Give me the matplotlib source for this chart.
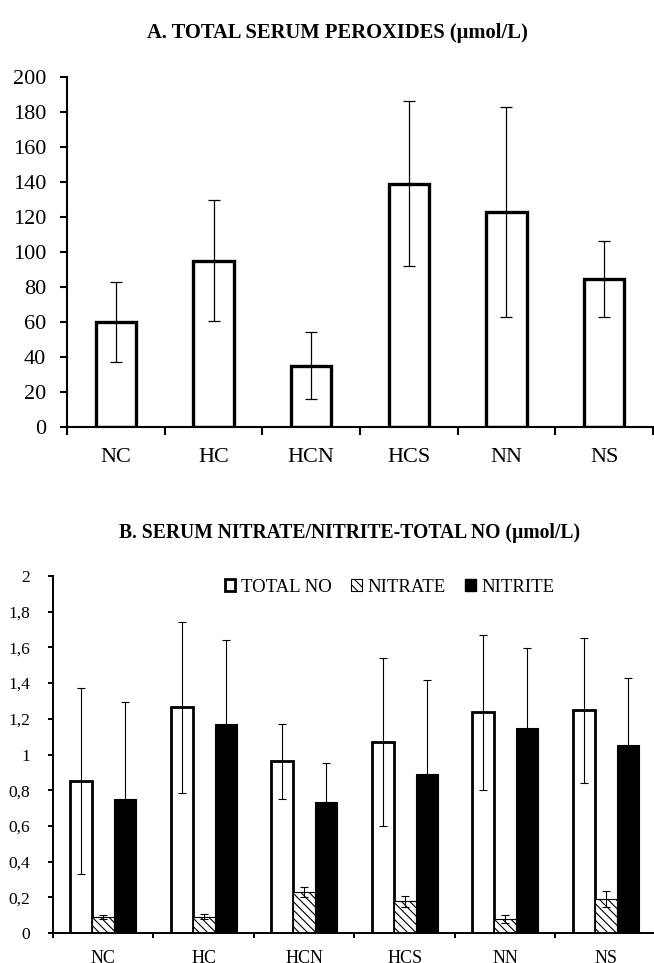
import matplotlib
matplotlib.use("Agg")
import matplotlib.pyplot as plt
import numpy as np
from matplotlib.patches import Patch
from matplotlib.ticker import FixedLocator

plt.rcParams["font.family"] = ["Liberation Serif", "DejaVu Serif"]
plt.rcParams["hatch.linewidth"] = 0.8

# ---- data ----
groups = ["NC", "HC", "HCN", "HCS", "NN", "NS"]

peroxides = [60, 95, 35, 139, 123, 84.5]
peroxides_err = [23, 34.5, 19, 47, 60, 21.5]

total_no = [0.85, 1.265, 0.963, 1.069, 1.236, 1.247]
total_no_err = [0.52, 0.48, 0.21, 0.47, 0.433, 0.405]
nitrate = [0.09, 0.09, 0.228, 0.178, 0.08, 0.19]
nitrate_err = [0.012, 0.014, 0.028, 0.031, 0.022, 0.045]
nitrite = [0.753, 1.172, 0.733, 0.892, 1.148, 1.052]
nitrite_err = [0.542, 0.469, 0.217, 0.528, 0.45, 0.374]

W, H = 654, 963
fig = plt.figure(figsize=(W / 100, H / 100), dpi=100)


def px_axes(left, top, right, bottom):
    return fig.add_axes([left / W, 1 - bottom / H, (right - left) / W, (bottom - top) / H])


def style_axis(ax, ylab_size, xlab_size, ytick_len, ypad, xtick_len, xpad, spine_lw):
    x = np.arange(len(groups))
    ax.set_xlim(-0.5, len(groups) - 0.5)
    ax.set_xticks(x)
    ax.set_xticklabels(groups, fontsize=xlab_size)
    ax.xaxis.set_minor_locator(FixedLocator(np.arange(-0.5, len(groups), 1.0)))
    ax.tick_params(axis="x", which="major", length=0, pad=xpad)
    ax.tick_params(axis="x", which="minor", length=xtick_len, width=spine_lw, direction="out")
    ax.tick_params(axis="y", length=ytick_len, width=spine_lw, direction="out",
                   pad=ypad, labelsize=ylab_size)
    for s in ("top", "right"):
        ax.spines[s].set_visible(False)
    for s in ("left", "bottom"):
        ax.spines[s].set_linewidth(spine_lw)


# ---- A. total serum peroxides ----
axA = px_axes(67, 77, 653, 427)
x = np.arange(len(groups))
axA.bar(x, peroxides, width=0.41, facecolor="white", edgecolor="black",
        linewidth=2.4, zorder=2)
axA.errorbar(x, peroxides, yerr=peroxides_err, fmt="none", ecolor="black",
             elinewidth=0.9, capsize=4, capthick=0.9, zorder=3)
axA.set_ylim(0, 200)
axA.set_yticks(np.arange(0, 201, 20))
style_axis(axA, 16, 16, 5, 10, 6, 15, 1.5)

fig.text(337.5 / W, 1 - 33 / H, "A. TOTAL SERUM PEROXIDES (µmol/L)",
         ha="center", va="center", fontsize=14.8, fontweight="bold")

# ---- B. serum nitrate / nitrite / total NO ----
axB = px_axes(53, 576, 53 + 6 * 100.5, 933)
bw = 0.22
axB.bar(x - bw, total_no, width=bw, facecolor="white", edgecolor="black",
        linewidth=2.0, zorder=2)
axB.bar(x, nitrate, width=bw, facecolor="white", edgecolor="black",
        linewidth=0.8, hatch="\\\\\\\\", zorder=2)
axB.bar(x + bw, nitrite, width=bw, facecolor="black", edgecolor="black",
        linewidth=0.8, zorder=2)
for off, vals, errs in ((-bw, total_no, total_no_err),
                        (0, nitrate, nitrate_err),
                        (bw, nitrite, nitrite_err)):
    axB.errorbar(x + off, vals, yerr=errs, fmt="none", ecolor="black",
                 elinewidth=0.8, capsize=3, capthick=0.8, zorder=3)
axB.set_ylim(0, 2)
ticksB = np.arange(0, 2.01, 0.2)
axB.set_yticks(ticksB)
axB.set_yticklabels([("%g" % round(v, 1)).replace(".", ",") for v in ticksB])
style_axis(axB, 12.5, 13, 3.6, 13, 3.6, 12, 1.4)

handles = [
    Patch(facecolor="white", edgecolor="black", linewidth=2.0),
    Patch(facecolor="white", edgecolor="black", linewidth=0.8, hatch="\\\\\\\\"),
    Patch(facecolor="black", edgecolor="black"),
]
fig.legend(handles, ["TOTAL NO", "NITRATE", "NITRITE"], ncol=3, frameon=False,
           loc="center left", bbox_to_anchor=(225 / W, 1 - 587 / H),
           borderpad=0, borderaxespad=0, fontsize=13.5,
           handlelength=0.55, handleheight=0.55, handletextpad=0.3,
           columnspacing=1.05)

fig.text(350 / W, 1 - 533 / H, "B. SERUM NITRATE/NITRITE-TOTAL NO (µmol/L)",
         ha="center", va="center", fontsize=14.1, fontweight="bold")

fig.savefig("out.png", dpi=100, facecolor="white")
